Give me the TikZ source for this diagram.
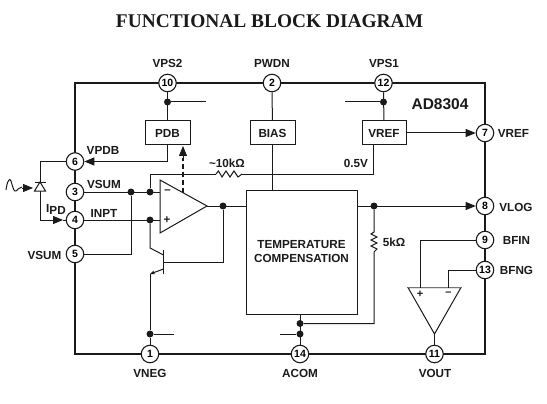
\documentclass[tikz,border=0pt]{standalone}
\usepackage{fontspec}
\setmainfont{Liberation Sans}
\newfontfamily\titlefont{Liberation Serif}
\usetikzlibrary{arrows.meta,calc}
\definecolor{ink}{HTML}{1A1A1A}
\tikzset{
  wire/.style={draw=ink,line width=1pt},
  pin/.style={circle,draw=ink,fill=white,line width=1.1pt,minimum size=17.5pt,inner sep=0pt,font=\fontsize{10.5}{11}\selectfont\bfseries},
  dot/.style={circle,fill=ink,minimum size=7pt,inner sep=0pt},
  lbl/.style={font=\fontsize{11.7}{13}\selectfont\bfseries,text=ink,inner sep=0pt},
  block/.style={draw=ink,fill=white,line width=1pt,inner sep=0pt,font=\fontsize{11.7}{14}\selectfont\bfseries,text=ink},
  arr/.style={-{Triangle[length=10pt,width=8pt]}},
  amp/.style={draw=ink,fill=white,line width=1pt},
}
\begin{document}
\begin{tikzpicture}[x=1pt,y=-1pt]
\useasboundingbox (0,0) rectangle (547,404);
\node[inner sep=0pt,text=ink,font=\titlefont\fontsize{19.4}{22}\selectfont\bfseries] (title) at (269.5,21) {FUNCTIONAL BLOCK DIAGRAM};
% frame
\draw[draw=ink,line width=2.7pt] (75,83) rectangle (485,354);
% blocks
\node[block,minimum width=45pt,minimum height=24pt] (pdb) at (167.5,133) {PDB};
\node[block,minimum width=45pt,minimum height=24pt] (bias) at (272.5,133) {BIAS};
\node[block,minimum width=44pt,minimum height=24pt] (vref) at (384,133) {VREF};
\node[block,minimum width=111pt,minimum height=124pt,align=center] (temp) at (301.5,252) {TEMPERATURE\\COMPENSATION};
% pins
\node[pin] (p10) at (167.5,83) {10};
\node[pin] (p2) at (272,83) {2};
\node[pin] (p12) at (383.5,83) {12};
\node[pin] (p6) at (75,161.5) {6};
\node[pin] (p3) at (75,192) {3};
\node[pin] (p4) at (75,220) {4};
\node[pin] (p5) at (75,254) {5};
\node[pin] (p7) at (485,133) {7};
\node[pin] (p8) at (485,206) {8};
\node[pin] (p9) at (485,240) {9};
\node[pin] (p13) at (485,270) {13};
\node[pin] (p1) at (150,354) {1};
\node[pin] (p14) at (300,354) {14};
\node[pin] (p11) at (434.5,354) {11};
% junctions
\node[dot] (j10) at (167.5,102) {};
\node[dot] (j12) at (383.5,102) {};
\node[dot] (jsum) at (131,192) {};
\node[dot] (jinv) at (150,192) {};
\node[dot] (jnon) at (150,220) {};
\node[dot] (jout) at (223,206) {};
\node[dot] (jvlog) at (374,206) {};
\node[dot] (jneg) at (150,334) {};
\node[dot] (jcom) at (300,334) {};
\node[dot] (jres) at (300,323.5) {};
\coordinate (s10) at (206,102);
\coordinate (s12) at (345,102);
\coordinate (sneg) at (174,334);
\coordinate (scom) at (280,334);
\coordinate (dtop) at (40,161.5);
\coordinate (dbot) at (40,220);
\coordinate (ipd) at (63,220);
\coordinate (fbk) at (150,174);
\coordinate (ra) at (216,174);
\coordinate (rb) at (242,174);
\coordinate (fbr) at (373,174);
\coordinate (vrefb) at (373,145);
\coordinate (colk) at (150,248);
\coordinate (base) at (163.5,262);
\coordinate (basew) at (223,262);
\coordinate (emit) at (150,274);
% top wires
\draw[wire] (p10) -- (pdb);
\draw[wire] (j10) -- (s10);
\draw[wire] (p2) -- (bias);
\draw[wire] (p12) -- (vref);
\draw[wire] (j12) -- (s12);
\draw[wire] (bias.south) -- (bias.south |- temp.north);
\draw[wire,arr] (vref.east) -- (p7);
\draw[wire,arr] (pdb.south) |- (p6);
\draw[draw=ink,line width=1.6pt,dashed,dash pattern=on 5pt off 3pt] (183,193) -- (183,158);
\draw[wire,arr] (183,158) -- (183,146);
% feedback
\draw[wire] (jinv) -- (fbk) -- (ra);
\draw[wire] (ra) -- ++(2.5,-3) -- ++(3.5,6) -- ++(4,-6) -- ++(4,6) -- ++(4,-6) -- ++(4,6) -- (rb);
\draw[wire] (rb) -- (fbr) -- (vrefb);
% inputs
\draw[wire] (p3) -- (160,192);
\draw[wire] (p4) -- (160,220);
\draw[wire] (p5) -| (jsum);
% photodiode
\draw[wire] (p6) -- (dtop) -- (dbot);
\draw[wire,arr] (dbot) -- (ipd);
\draw[wire] (ipd) -- (p4);
\fill[white] (34.5,191) -- (45.5,191) -- (40,182) -- cycle;
\draw[wire] (34.5,191) -- (45.5,191) -- (40,182) -- cycle;
\draw[wire] (34.5,182) -- (45.5,182);
\draw[wire] (6,190) .. controls (7,181) and (10,177) .. (11,181) .. controls (13,188) and (14,192) .. (16,191) .. controls (18,190) and (19,187) .. (22,187);
\draw[wire,arr] (22,188) -- (33,188);
% amp
\draw[amp] (160,180) -- (160,233) -- (207,206) -- cycle;
\node[inner sep=0pt,text=ink,font=\fontsize{11.5}{12}\selectfont\bfseries] (minus1) at (167.5,191.5) {–};
\node[inner sep=0pt,text=ink,font=\fontsize{11.5}{12}\selectfont\bfseries] (plus1) at (167,220) {+};
\draw[wire] (207,206) -- (temp.west |- jout);
\draw[wire] (jout) -- (basew) -- (base);
% transistor
\draw[draw=ink,line width=1.5pt] (163.5,250) -- (163.5,274);
\draw[wire] (jnon) -- (colk) -- (163.5,255);
\draw[wire,-{Stealth[length=5pt,width=4pt]}] (163.5,269) -- (emit);
\draw[wire] (emit) -- (jneg);
\draw[wire] (jneg) -- (p1);
\draw[wire] (jneg) -- (sneg);
% output
\draw[wire,arr] (temp.east |- jvlog) -- (p8);
\draw[wire] (jvlog) -- (374,232) -- ++(-3,2) -- ++(6,3) -- ++(-6,3) -- ++(6,3) -- ++(-6,3) -- ++(6,3) -- (374,252) -- (374,323.5) -- (jres);
\draw[wire] (p14) -- (temp.south -| p14);
\draw[wire] (jcom) -- (scom);
% buffer
\draw[amp] (408,287.5) -- (461,287.5) -- (434.5,334) -- cycle;
\draw[draw=ink!60,line width=1.6pt] (408,287.5) -- (461,287.5);
\draw[wire] (p9) -| (420,287.5);
\draw[wire] (p13) -| (448,287.5);
\draw[wire] (434.5,334) -- (p11);
\node[inner sep=0pt,text=ink,font=\fontsize{11}{12}\selectfont\bfseries] (plus2) at (420,294) {+};
\node[inner sep=0pt,text=ink,font=\fontsize{11}{12}\selectfont\bfseries] (minus2) at (448.5,294) {–};
% labels
\node[lbl] (l10) at (167.5,63.5) {VPS2};
\node[lbl] (l2) at (272,63.5) {PWDN};
\node[lbl] (l12) at (384,63.5) {VPS1};
\node[lbl,font=\fontsize{15.5}{17}\selectfont\bfseries] (part) at (440,104) {AD8304};
\node[lbl] (l6) at (103,150.5) {VPDB};
\node[lbl] (l3) at (104,184) {VSUM};
\node[lbl] (l4) at (104,213) {INPT};
\node[lbl] (l5) at (44.5,255) {VSUM};
\node[lbl] (lipd) at (56,209.5) {I\raisebox{-2pt}{PD}};
\node[lbl] (lr1) at (227,163) {\textasciitilde10kΩ};
\node[lbl] (lv) at (356,163.5) {0.5V};
\node[lbl] (l7) at (513.5,133) {VREF};
\node[lbl] (l8) at (516,207) {VLOG};
\node[lbl] (l9) at (516.5,240) {BFIN};
\node[lbl] (l13) at (516.5,270) {BFNG};
\node[lbl] (lr2) at (394,242) {5kΩ};
\node[lbl] (l1) at (150,373.5) {VNEG};
\node[lbl] (l14) at (300,373.5) {ACOM};
\node[lbl] (l11) at (435,373.5) {VOUT};
\end{tikzpicture}
\end{document}
